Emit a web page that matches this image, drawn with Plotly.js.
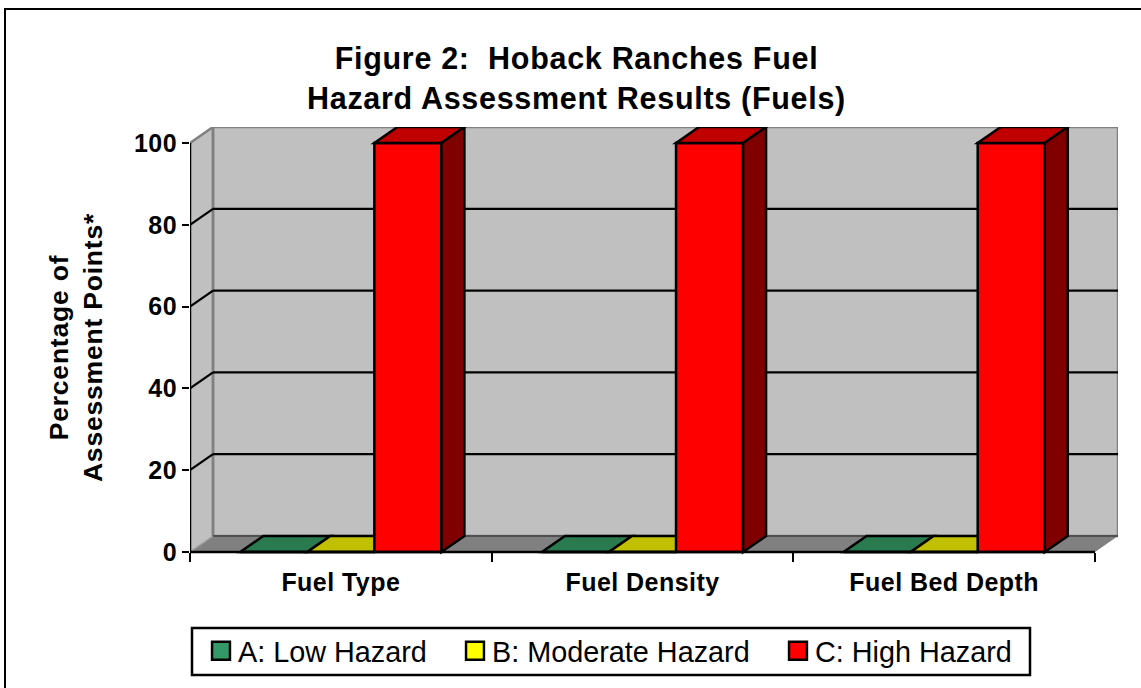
<!DOCTYPE html>
<html><head><meta charset="utf-8">
<script src="https://cdn.plot.ly/plotly-3.0.1.min.js"></script>
<style>html,body{margin:0;padding:0;background:#fff}#c{width:1141px;height:688px}
.legendpoints{transform:translate(3px,0)}
.legendpoints path.scatterpts{transform:translate(20px,0) scale(1.12)}
.xtick text,.ytick text{letter-spacing:.45px}
.gtitle{letter-spacing:.7px}
.ytitle{letter-spacing:.8px}</style>
</head><body><div id="c"></div>
<script>
const categories = ['Fuel Type','Fuel Density','Fuel Bed Depth'];
const seriesNames = ['A: Low Hazard','B: Moderate Hazard','C: High Hazard'];
const lowHazard = [0,0,0];
const moderateHazard = [0,0,0];
const highHazard = [100,100,100];
const frontColors = ['#339966','#ffff00','#ff0000'];
const topColors = ['#2a7a50','#c0c000','#c00000'];
const sideColors = ['#1a4d33','#808000','#800000'];
const yTicks = [0,20,40,60,80,100];

const W=1141,H=688,L=190,R=1118,T=127,Z=552,PB=568;
const frontW=905, frontH=409;
const catPx=frontW/3, dx=23/catPx, dy=16/(frontH/100);
const xMin=-0.5, xMax=2.5+dx, yMax=100+dy, yMin=-(PB-Z)/(frontH/100);
const gap=1/3, bw=(1-gap)/3;
const allSeries=[lowHazard,moderateHazard,highHazard];
const px=x=>(x-L)/(R-L), py=y=>(PB-y)/(PB-T);

const poly=(pts,fill,lineColor,lineWidth,layer)=>({type:'path',xref:'x',yref:'y',layer:layer||'below',
  path:'M'+pts.map(p=>p[0]+','+p[1]).join('L')+'Z',fillcolor:fill,
  line:{color:lineColor||fill,width:lineWidth===undefined?2.5:lineWidth}});
const seg=(x0,y0,x1,y1,c,w,layer)=>({type:'line',xref:'x',yref:'y',layer:layer||'below',x0,y0,x1,y1,line:{color:c,width:w}});

const shapes=[];
// walls and floor
shapes.push(poly([[xMin,0],[xMin+dx,dy],[xMin+dx,yMax],[xMin,100]],'#c0c0c0','#c0c0c0',0));
shapes.push(poly([[xMin+dx,dy],[xMax,dy],[xMax,yMax],[xMin+dx,yMax]],'#c0c0c0','#808080',2.5));
shapes.push(poly([[xMin,0],[xMax-dx,0],[xMax,dy],[xMin+dx,dy]],'#808080','#808080',0));
shapes.push(seg(xMin,100,xMin+dx,yMax,'#808080',2.5));
shapes.push(seg(xMin+dx,dy,xMin+dx,yMax,'#808080',2.5));
shapes.push(seg(xMin,0,xMin+dx,dy,'#a0a0a0',1.5));
// gridlines
yTicks.slice(1,-1).forEach(v=>{
  shapes.push(seg(xMin,v,xMin+dx,v+dy,'#000',2.2));
  shapes.push(seg(xMin+dx,v+dy,xMax,v+dy,'#000',2.2));
});
shapes.push(seg(xMin+dx,dy,xMax,dy,'#404040',1.5));
// bar depth faces
categories.forEach((c,i)=>{
  allSeries.forEach((s,j)=>{
    const v=s[i], x0=i+(j-1.5)*bw, x1=x0+bw;
    shapes.push(poly([[x0,v],[x1,v],[x1+dx,v+dy],[x0+dx,v+dy]],topColors[j],'#000',2.5,v>0?'above':'below'));
    if(v>0) shapes.push(poly([[x1,0],[x1+dx,dy],[x1+dx,v+dy],[x1,v]],sideColors[j],'#000',2.5,'above'));
  });
});
// front axis lines
shapes.push(seg(xMin,0,xMin,100,'#000',2.5,'above'));
shapes.push(seg(xMin,0,xMax-dx,0,'#000',2.5,'above'));
// frame and legend box
shapes.push({type:'path',xref:'paper',yref:'paper',layer:'above',
  path:`M${px(5)},${py(700)}L${px(5)},${py(9)}L${px(1150)},${py(9)}`,line:{color:'#000',width:2}});
shapes.push({type:'rect',xref:'paper',yref:'paper',layer:'above',
  x0:px(192),x1:px(1030),y0:py(675),y1:py(628),line:{color:'#000',width:2.5},fillcolor:'rgba(0,0,0,0)'});

const traces=allSeries.map((s,j)=>({type:'bar',x:categories,y:s,name:seriesNames[j],showlegend:false,
  marker:{color:frontColors[j],line:{color:'#000',width:2.5}}}));
const legendX=[198,452,775];
const legendKeys=['legend','legend2','legend3'];
seriesNames.forEach((n,j)=>traces.push({type:'scatter',mode:'markers',x:[null],y:[null],name:n,legend:j?'legend'+(j+1):'legend',
  showlegend:true,marker:{symbol:'square',size:19,color:frontColors[j],line:{color:'#000',width:2.2}},hoverinfo:'skip'}));

const layout={width:W,height:H,margin:{l:L,r:W-R,t:T,b:H-PB,pad:0},
  paper_bgcolor:'#fff',plot_bgcolor:'#fff',autosize:false,
  barmode:'group',bargap:gap,bargroupgap:0,
  font:{family:'"Liberation Sans",Arial,sans-serif',color:'#000'},
  title:{text:'<b>Figure 2:  Hoback Ranches Fuel<br>Hazard Assessment Results (Fuels)</b>',
    font:{size:30.5,color:'#000'},x:576.5/W,xref:'container',xanchor:'center',y:0.8997,yanchor:'middle',yref:'container'},
  xaxis:{type:'category',categoryorder:'array',categoryarray:categories,range:[xMin,xMax],tickson:'boundaries',ticks:'outside',ticklen:9,tickwidth:2,tickcolor:'#000',
    anchor:'free',position:py(Z),ticklabelstandoff:13,
    showgrid:false,zeroline:false,showline:false,tickfont:{size:25,weight:'bold'},automargin:false},
  yaxis:{range:[yMin,yMax],tickmode:'array',tickvals:yTicks,ticktext:yTicks.map(String),ticks:'outside',ticklen:7,tickwidth:2,tickcolor:'#000',
    showgrid:false,zeroline:false,showline:false,tickfont:{size:25,weight:'bold'},automargin:false,
    title:{text:'<b>Percentage of<br>Assessment Points*</b>',font:{size:26.5},standoff:23}},
  shapes
};
legendKeys.forEach((k,j)=>{layout[k]={x:px(legendX[j]),xanchor:'left',y:py(651),yanchor:'middle',
  bgcolor:'rgba(0,0,0,0)',borderwidth:0,font:{size:28.8,color:'#000'},orientation:'h'};});
Plotly.newPlot('c',traces,layout,{displayModeBar:false,responsive:false});
</script></body></html>
